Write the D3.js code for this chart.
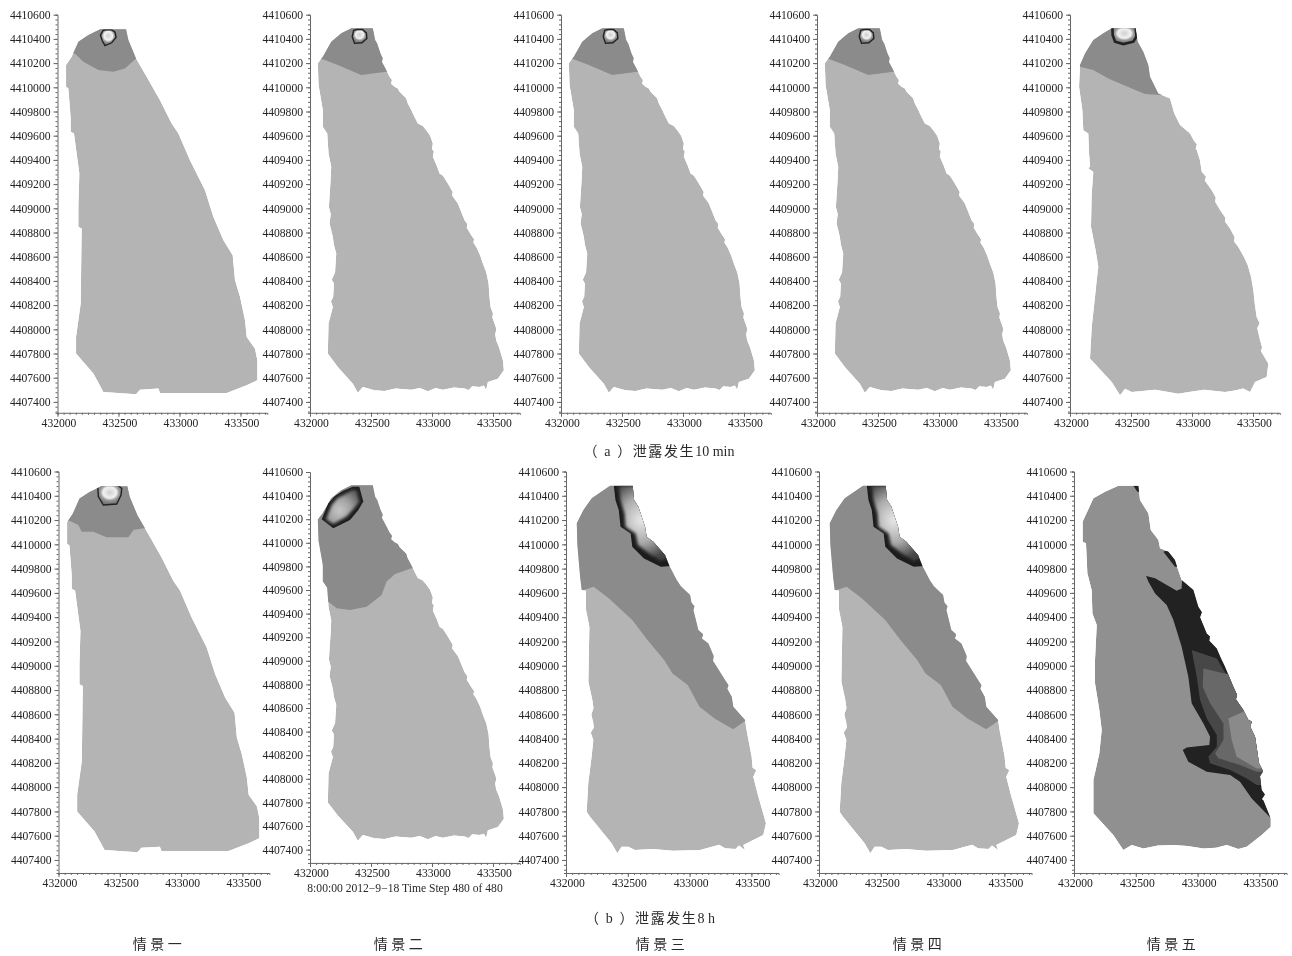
<!DOCTYPE html>
<html lang="zh">
<head>
<meta charset="utf-8">
<title>泄露扩散情景</title>
<script src="https://d3js.org/d3.v7.min.js"></script>
<style>
  body { margin:0; background:#fff; }
  svg { display:block; }
  .tick text { font-family:"Liberation Serif",serif; font-size:11.6px; fill:#222; }
  .domain, .tick line { stroke:#666; }
  .cap { font-family:"Liberation Serif","Noto Sans CJK SC",serif; font-size:14px; fill:#2a2a2a; text-anchor:middle; }
</style>
</head>
<body>
<svg id="chart" width="1292" height="956"></svg>
<script>
// all outlines are [metres east of 432000, metres north of 4407000]
var E0 = 432000, N0 = 4407000

var xTicks = [432000, 432500, 433000, 433500]
var yTicks = [4407400, 4407600, 4407800, 4408000, 4408200, 4408400, 4408600, 4408800, 4409000,
  4409200, 4409400, 4409600, 4409800, 4410000, 4410200, 4410400, 4410600]

var scenarios = ["情景一", "情景二", "情景三", "情景四", "情景五"]
var captionA = ["（ a ）泄露发生", "10 min"]
var captionB = ["（ b ）泄露发生", "8 h"]
var timeStamp = "8:00:00 2012−9−18 Time Step 480 of 480"

// domain outlines
var outlineSmooth = [[349,3479],[562,3479],[581,3391],[644,3239],[731,3087],[840,2894],[936,2701],[991,2619],
  [1086,2398],[1209,2150],[1278,1929],[1360,1736],[1436,1612],[1455,1406],[1496,1268],[1537,1075],[1551,937],
  [1619,840],[1638,744],[1638,578],[1551,537],[1387,474],[840,474],[827,510],[676,501],[644,463],[376,482],
  [294,634],[152,799],[152,937],[171,1075],[190,1213],[198,1833],[171,1847],[171,2012],[179,2288],[157,2453],
  [135,2619],[108,2632],[108,2743],[89,2991],[70,3005],[70,3184],[116,3253],[171,3377],[253,3432]]

var outlineRough = [[338,3487],[515,3487],[534,3391],[551,3363],[578,3280],[596,3240],[590,3210],[625,3142],[652,3087],
  [672,3060],[665,3030],[693,3005],[720,2990],[734,2963],[789,2908],[800,2870],[830,2812],[850,2770],[884,2701],
  [925,2680],[953,2646],[985,2600],[1007,2536],[1000,2490],[1015,2470],[1007,2426],[1040,2350],[1062,2288],[1090,2270],
  [1130,2205],[1170,2135],[1165,2105],[1212,2040],[1240,1970],[1267,1902],[1290,1870],[1285,1840],[1322,1778],[1345,1745],
  [1340,1715],[1363,1681],[1395,1610],[1417,1543],[1445,1470],[1464,1378],[1470,1280],[1480,1185],[1500,1130],[1495,1095],
  [1513,1047],[1528,1000],[1518,960],[1526,909],[1550,850],[1581,744],[1589,661],[1540,592],[1458,565],[1444,501],[1425,535],
  [1390,523],[1330,530],[1300,498],[1267,510],[1180,520],[1089,501],[1030,515],[966,487],[900,515],[830,501],[700,510],
  [610,490],[529,496],[433,523],[392,476],[351,551],[228,689],[146,799],[152,1047],[187,1185],[172,1230],[190,1270],
  [196,1378],[178,1410],[205,1470],[215,1626],[195,1700],[187,1764],[160,1874],[170,1950],[155,2010],[160,2095],[168,2220],
  [174,2343],[152,2453],[141,2619],[105,2674],[105,2812],[70,3018],[64,3198],[105,3253],[174,3377],[256,3446]]

var outlineA5 = [[342,3487],[538,3487],[555,3377],[601,3294],[642,3184],[656,3087],[724,2949],[820,2908],
  [855,2784],[902,2688],[984,2619],[1015,2560],[1040,2530],[1030,2490],[1039,2481],[1065,2400],[1080,2302],[1115,2260],
  [1105,2230],[1162,2150],[1195,2090],[1190,2055],[1230,1985],[1275,1920],[1270,1890],[1312,1833],[1350,1760],[1345,1725],
  [1380,1681],[1425,1600],[1457,1530],[1485,1430],[1503,1323],[1515,1210],[1530,1102],[1555,1050],[1535,1010],[1558,909],
  [1575,850],[1565,820],[1626,716],[1612,606],[1517,565],[1476,482],[1420,510],[1350,495],[1271,482],[1100,500],[960,480],
  [888,468],[700,500],[506,482],[451,509],[410,454],[342,565],[164,758],[178,1020],[205,1268],[219,1406],[232,1516],
  [210,1654],[172,1847],[178,2122],[191,2300],[150,2330],[165,2345],[156,2453],[150,2619],[109,2646],[101,2812],[74,3005],[82,3184],
  [123,3280],[191,3391],[273,3446]]

var outlineB3 = [[356,3483],[540,3483],[551,3365],[586,3310],[640,3145],[653,3063],[707,3022],[801,2912],
  [837,2821],[896,2706],[928,2656],[1004,2582],[1015,2520],[1040,2490],[1031,2459],[1071,2294],[1110,2260],[1100,2225],
  [1152,2184],[1195,2080],[1190,2040],[1220,1992],[1287,1882],[1315,1840],[1305,1810],[1341,1745],[1354,1662],[1449,1553],
  [1461,1471],[1502,1251],[1510,1160],[1540,1140],[1515,1086],[1556,922],[1618,702],[1596,606],[1434,523],[1448,482],
  [1400,520],[1370,490],[1286,496],[1240,525],[1084,482],[868,477],[700,490],[558,482],[504,510],[450,510],[415,455],[369,537],
  [194,757],[167,798],[180,1032],[207,1251],[221,1388],[200,1450],[225,1490],[221,1526],[205,1600],[222,1650],[213,1718],
  [181,1868],[189,2321],[162,2459],[162,2618],[127,2623],[114,2733],[92,2994],[87,3173],[141,3282],[208,3379]]

var outlineB5 = [[359,3483],[521,3483],[534,3365],[602,3255],[621,3118],[683,3035],[696,2967],[764,2939],
  [817,2871],[836,2810],[871,2706],[966,2623],[1006,2486],[1035,2440],[1020,2400],[1074,2266],[1100,2240],[1095,2205],
  [1155,2143],[1190,2060],[1222,1992],[1289,1827],[1320,1760],[1310,1725],[1370,1635],[1411,1553],[1440,1540],[1425,1500],
  [1465,1415],[1497,1196],[1530,1130],[1505,1090],[1519,976],[1545,940],[1520,900],[1532,893],[1592,742],[1592,674],[1519,605],
  [1397,509],[1330,490],[1236,523],[1150,500],[1047,495],[920,515],[804,523],[680,520],[561,495],[467,523],[399,482],[318,605],
  [157,784],[157,1058],[205,1278],[224,1470],[205,1635],[170,1855],[170,2047],[184,2335],[149,2431],[143,2623],[108,2761],
  [97,3008],[70,3022],[70,3186],[157,3379],[251,3433]]

// concentration zones, clipped to the outline when drawn
var zoneA1 = [[143,3280],[212,3211],[335,3142],[458,3129],[553,3156],[644,3239],[800,3239],[800,3600],[40,3600],[40,3280]]
var zoneA2 = [[105,3231],[228,3184],[420,3101],[625,3129],[800,3129],[800,3600],[40,3600],[40,3231]]
var zoneA5 = [[82,3170],[191,3142],[314,3073],[506,2991],[615,2944],[738,2936],[800,2936],[800,3600],[40,3600],[40,3170]]
var zoneB1 = [[89,3195],[162,3159],[189,3104],[284,3104],[393,3058],[570,3058],[611,3118],[692,3132],[800,3132],[800,3600],[40,3600],[40,3195]]
var zoneB2 = [[150,2501],[219,2445],[328,2431],[464,2459],[587,2558],[628,2671],[697,2736],[833,2784],[1000,2784],[1000,3600],[40,3600],[40,2501]]
var zoneB3 = [[128,2618],[223,2651],[346,2555],[536,2376],[659,2212],[794,2047],[862,1937],[985,1841],[1080,1662],
  [1202,1566],[1352,1476],[1461,1553],[1800,1553],[1800,3600],[40,3600],[40,2618]]

// source rings
var ringA1 = [[375,3472],[400,3475],[445,3475],[472,3455],[480,3413],[444,3368],[389,3344],[367,3385],[352,3432]]
var ringA2 = [[358,3470],[385,3478],[430,3478],[462,3450],[466,3404],[425,3368],[365,3363],[346,3418]]
var ringA5 = [[347,3500],[538,3500],[544,3418],[519,3377],[437,3357],[369,3377],[350,3430]]
var ringB1 = [[320,3475],[350,3490],[480,3490],[516,3460],[510,3406],[475,3332],[366,3324],[325,3393]]

// hot patches at the shore
var hotB2 = [[350,3476],[404,3476],[437,3349],[396,3278],[328,3193],[191,3123],[96,3199],[150,3335],[205,3397],[273,3442]]
var hotB2in = [[350,3448],[382,3442],[404,3349],[369,3301],[300,3222],[191,3159],[131,3199],[178,3320],[224,3377]]
var hotB3 = [[387,3483],[400,3365],[427,3282],[441,3145],[523,3090],[536,2980],[631,2884],[767,2816],[854,2821],
  [958,2816],[958,3337],[686,3483]]
var hotB3in = [[427,3483],[441,3365],[474,3255],[482,3145],[563,3090],[582,2994],[672,2925],[767,2865],[808,2884],
  [958,2893],[958,3483]]

// scenario five, 8 h bands
var bandDark = [[583,2739],[656,2720],[750,2665],[831,2618],[871,2637],[874,2706],[1775,2706],[1775,751],[1586,751],
  [1438,907],[1343,1044],[1263,1099],[1074,1127],[925,1209],[880,1305],[912,1327],[1095,1347],[1101,1415],[1047,1525],
  [952,1690],[925,1909],[871,2157],[804,2376],[750,2500],[656,2596],[602,2692]]
var bandL2 = [[952,2129],[1155,2060],[1227,1937],[1775,1937],[1775,1017],[1478,1017],[1397,1072],[1263,1141],[1101,1196],
  [1087,1250],[1155,1333],[1155,1429],[1074,1566],[1020,1717],[993,1909]]
var bandL3 = [[1047,1978],[1236,1931],[1775,1931],[1775,1127],[1478,1127],[1343,1182],[1168,1237],[1141,1278],[1209,1388],
  [1209,1525],[1101,1690],[1041,1827]]
var bandL4 = [[1249,1566],[1370,1621],[1775,1621],[1775,1154],[1478,1154],[1316,1250],[1276,1388]]
var bitTop = [[480,3483],[534,3483],[534,3433],[513,3433]]
var bitSide = [[723,2939],[764,2953],[858,2816],[817,2816]]

var LIGHT = "#b4b4b4", MID = "#8b8b8b"

// layer = [points, fill, stroke, stroke width, extra blur]
var panels = [
  {x0:57.5, sx:.122,  top:14.7,  sy:.121,  floor:310, outline:outlineSmooth, base:LIGHT, layers:[[zoneA1,MID],[ringA1,"url(#ring)","#222",1.4]]},
  {x0:310,  sx:.122,  top:14.7,  sy:.121,  floor:310, outline:outlineRough,  base:LIGHT, layers:[[zoneA2,MID],[ringA2,"url(#ring)","#222",1.4]]},
  {x0:561,  sx:.122,  top:14.7,  sy:.121,  floor:310, outline:outlineRough,  base:LIGHT, layers:[[zoneA2,MID],[ringA2,"url(#ring)","#222",1.4]]},
  {x0:817,  sx:.122,  top:14.7,  sy:.121,  floor:310, outline:outlineRough,  base:LIGHT, layers:[[zoneA2,MID],[ringA2,"url(#ring)","#222",1.4]]},
  {x0:1070, sx:.122,  top:14.7,  sy:.121,  floor:310, outline:outlineA5,     base:LIGHT, layers:[[zoneA5,MID],[ringA5,"url(#ring)","#222",2.6]]},
  {x0:58.5, sx:.1226, top:471.5, sy:.1214, floor:293, outline:outlineSmooth, base:LIGHT, layers:[[zoneB1,MID],[ringB1,"url(#ring)","#222",1.4]]},
  {x0:310,  sx:.122,  top:472,   sy:.118,  floor:287, outline:outlineRough,  base:LIGHT, layers:[[zoneB2,MID],[hotB2,"#1e1e1e"],[hotB2in,"url(#hotA)",null,0,true]]},
  {x0:566,  sx:.1236, top:471.5, sy:.1214, floor:293, outline:outlineB3,     base:LIGHT, layers:[[zoneB3,MID],[hotB3,"#1e1e1e"],[hotB3in,"url(#hotB)",null,0,true]]},
  {x0:819,  sx:.1236, top:471.5, sy:.1214, floor:293, outline:outlineB3,     base:LIGHT, layers:[[zoneB3,MID],[hotB3,"#1e1e1e"],[hotB3in,"url(#hotB)",null,0,true]]},
  {x0:1074, sx:.1236, top:471.5, sy:.1214, floor:293, outline:outlineB5,     base:"#909090", layers:[[bandDark,"#222"],[bandL2,"#474747"],[bandL3,"#686868"],[bandL4,"#8a8a8a"],[bitTop,"#222"],[bitSide,"#222"]]}
]

var svg = d3.select("#chart")
var defs = svg.append("defs")

defs.append("filter").attr("id","soft").append("feGaussianBlur").attr("stdDeviation",.55)
defs.append("filter").attr("id","softer").append("feGaussianBlur").attr("stdDeviation",1.6)
defs.append("filter").attr("id","softText").append("feGaussianBlur").attr("stdDeviation",.3)

function radial(id, cx, cy, r, stops){
  var g = defs.append("radialGradient").attr("id",id).attr("cx",cx).attr("cy",cy).attr("r",r)
  stops.forEach(function(s){ g.append("stop").attr("offset",s[0]).attr("stop-color",s[1]) })
}
radial("ring", .5, .38, .55, [[0,"#d0d0d0"],[.3,"#e4e4e4"],[.5,"#f2f2f2"],[.72,"#9a9a9a"],[1,"#777"]])
radial("hotA", .4, .6, .7, [[0,"#c8c8c8"],[.5,"#a2a2a2"],[1,"#5e5e5e"]])
radial("hotB", .33, .46, .55, [[0,"#e8e8e8"],[.55,"#aaaaaa"],[1,"#444"]])

var axes = svg.append("g").attr("filter","url(#softText)")

function drawPanel(p, i){
  var x = d3.scaleLinear().domain([E0, E0+1720]).range([p.x0, p.x0+1720*p.sx])
  var xb = p.top+(3600-p.floor)*p.sy
  var y = d3.scaleLinear().domain([N0+p.floor, N0+3600]).range([xb, p.top])
  var path = d3.line().x(function(d){ return x(E0+d[0]) }).y(function(d){ return y(N0+d[1]) })
  var ring = function(pts){ return path(pts)+"Z" }

  defs.append("clipPath").attr("id","shore"+i).append("path").attr("d",ring(p.outline))

  var g = svg.append("g").attr("filter","url(#soft)")
  var inner = g.append("g").attr("clip-path","url(#shore"+i+")")
  inner.append("path").attr("d",ring(p.outline)).attr("fill",p.base)
  p.layers.forEach(function(l){
    var s = inner.append("path").attr("d",ring(l[0])).attr("fill",l[1])
      .attr("stroke",l[2]||"none").attr("stroke-width",l[3]||0)
    if(l[4]) s.attr("filter","url(#softer)")
  })

  // minor ticks first, then the labelled ones on top
  axes.append("g").attr("transform","translate(0,"+xb+")")
    .call(d3.axisBottom(x).tickValues(d3.range(E0, E0+1701, 50)).tickSize(2).tickFormat(""))
  axes.append("g").attr("transform","translate("+p.x0+",0)")
    .call(d3.axisLeft(y).tickValues(d3.range(N0+320, N0+3601, 40)).tickSize(2).tickFormat(""))
  axes.append("g").attr("transform","translate(0,"+xb+")")
    .call(d3.axisBottom(x).tickValues(xTicks).tickSize(4).tickPadding(2).tickFormat(d3.format("d")))
    .call(function(a){ a.select(".domain").remove(); a.selectAll("text").attr("dx",1) })
  axes.append("g").attr("transform","translate("+p.x0+",0)")
    .call(d3.axisLeft(y).tickValues(yTicks).tickSize(4).tickPadding(3).tickFormat(d3.format("d")))
    .select(".domain").remove()
}
panels.forEach(drawPanel)

function caption(parts, cx, cy){
  var t = axes.append("text").attr("class","cap").attr("x",cx).attr("y",cy)
  t.append("tspan").style("letter-spacing","1.6px").text(parts[0])
  t.append("tspan").text(parts[1])
}
caption(captionA, 659, 456)
caption(captionB, 650, 923)
axes.append("text").attr("class","cap").attr("x",405).attr("y",892).style("font-size","11.6px").text(timeStamp)
var scenX = [159, 400, 662, 919, 1173]
axes.selectAll(".scen").data(scenarios).enter().append("text").attr("class","cap scen")
  .attr("x",function(d,i){ return scenX[i] }).attr("y",949)
  .style("letter-spacing","3.5px").text(function(d){ return d })
</script>
</body>
</html>
